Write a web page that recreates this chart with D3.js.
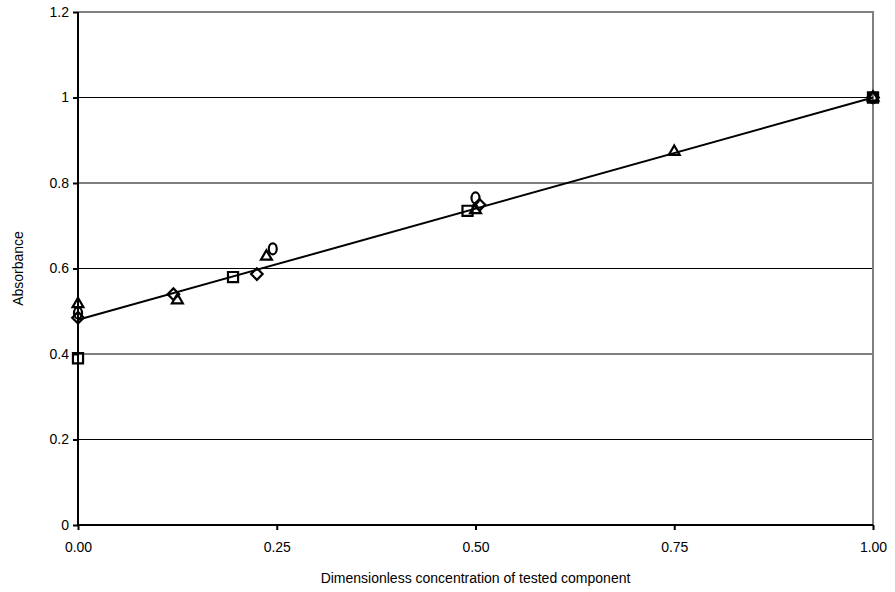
<!DOCTYPE html>
<html>
<head>
<meta charset="utf-8">
<script src="https://cdn.jsdelivr.net/npm/d3@7"></script>
<style>
  body { margin: 0; background: #fff; }
  text { font-family: "Liberation Sans", Arial, sans-serif; font-size: 14px; fill: #000; }
</style>
</head>
<body>
<svg id="chart" width="895" height="592"></svg>
<script>
const squares = [[0, 0.39], [0.195, 0.58], [0.49, 0.735], [1, 1.0]];
const diamonds = [[0, 0.485], [0.12, 0.54], [0.225, 0.587], [0.505, 0.749], [1, 1.0]];
const triangles = [[0, 0.517], [0.125, 0.526], [0.237, 0.628], [0.5, 0.737], [0.75, 0.873], [1, 1.0]];
const circles = [[0, 0.496], [0.245, 0.646], [0.5, 0.765], [1, 1.0]];
const fitLine = [[0, 0.48], [1, 1.0]];
const xTicks = [0, 0.25, 0.5, 0.75, 1];
const yTicks = [0, 0.2, 0.4, 0.6, 0.8, 1, 1.2];

const svg = d3.select('#chart');
const margin = {top: 12, right: 22, bottom: 67, left: 78};
const width = 895, height = 592;

const x = d3.scaleLinear().domain([0, 1]).range([margin.left, width - margin.right]);
const y = d3.scaleLinear().domain([0, 1.2]).range([height - margin.bottom, margin.top]);

// grid lines
svg.append('g')
  .selectAll('line')
  .data(yTicks.filter(d => d > 0 && d < 1.2))
  .enter()
  .append('line')
  .attr('x1', x(0)).attr('x2', x(1))
  .attr('y1', d => y(d)).attr('y2', d => y(d))
  .attr('stroke', '#000').attr('stroke-width', 1.2);

// frame top and right
svg.append('path')
  .attr('d', 'M' + x(0) + ',' + y(1.2) + 'H' + x(1) + 'V' + y(0))
  .attr('fill', 'none').attr('stroke', '#808080').attr('stroke-width', 2);

const yAxis = d3.axisLeft(y).tickValues(yTicks)
  .tickFormat(d => d === 0 || d === 1 ? d3.format('d')(d) : d3.format('.1f')(d))
  .tickSize(5).tickPadding(4);
svg.append('g')
  .attr('transform', 'translate(' + x(0) + ',0)')
  .call(yAxis)
  .call(g => g.select('.domain').attr('stroke-width', 2).attr('d', 'M0,' + y(1.2) + 'V' + y(0)))
  .call(g => g.selectAll('.tick line').attr('stroke-width', 2))
  .call(g => g.selectAll('.tick text').attr('font-size', 14.5).attr('font-family', '"Liberation Sans", Arial, sans-serif'));

const xAxis = d3.axisBottom(x).tickValues(xTicks).tickFormat(d3.format('.2f'))
  .tickSize(5).tickPadding(12);
svg.append('g')
  .attr('transform', 'translate(0,' + y(0) + ')')
  .call(xAxis)
  .call(g => g.select('.domain').attr('stroke-width', 2).attr('d', 'M' + x(0) + ',0H' + x(1)))
  .call(g => g.selectAll('.tick line').attr('stroke-width', 2))
  .call(g => g.selectAll('.tick text').attr('font-size', 14.5).attr('font-family', '"Liberation Sans", Arial, sans-serif'));

// axis captions
svg.append('text')
  .attr('x', (x(0) + x(1)) / 2).attr('y', 583)
  .attr('text-anchor', 'middle')
  .text('Dimensionless concentration of tested component');
svg.append('text')
  .attr('transform', 'translate(23,' + (y(0) + y(1.2)) / 2 + ') rotate(-90)')
  .attr('text-anchor', 'middle')
  .text('Absorbance');

// fitted line
const line = d3.line().x(d => x(d[0])).y(d => y(d[1]));
svg.append('path').attr('d', line(fitLine))
  .attr('fill', 'none').attr('stroke', '#000').attr('stroke-width', 2);

// markers
function drawSeries(data, type, size) {
  svg.append('g')
    .selectAll('path')
    .data(data)
    .enter()
    .append('path')
    .attr('d', d3.symbol().type(type).size(size))
    .attr('transform', d => 'translate(' + x(d[0]) + ',' + y(d[1]) + ')')
    .attr('fill', 'none').attr('stroke', '#000').attr('stroke-width', 2.2);
}
drawSeries(diamonds, d3.symbolDiamond2, 85);
drawSeries(triangles, d3.symbolTriangle2, 85);
drawSeries(squares, d3.symbolSquare2, 130);

svg.append('g')
  .selectAll('ellipse')
  .data(circles)
  .enter()
  .append('ellipse')
  .attr('cx', d => x(d[0])).attr('cy', d => y(d[1]))
  .attr('rx', 4).attr('ry', 5.5)
  .attr('fill', 'none').attr('stroke', '#000').attr('stroke-width', 2.2);
</script>
</body>
</html>
